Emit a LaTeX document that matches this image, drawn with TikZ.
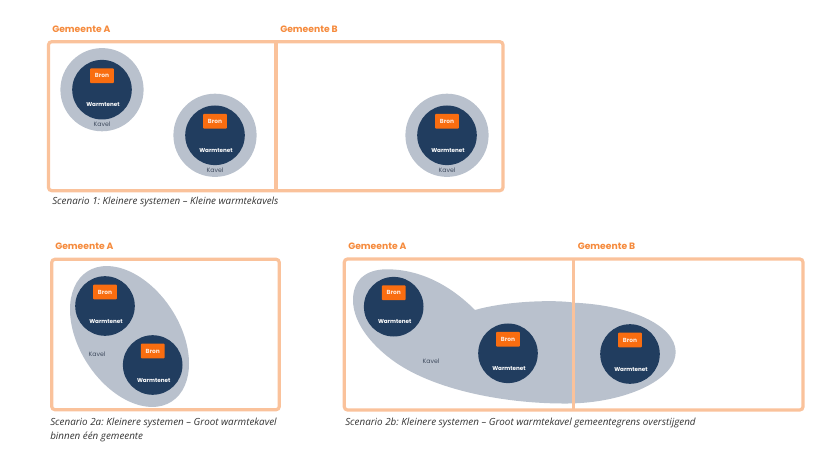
\documentclass[tikz,border=0pt]{standalone}
\usepackage{fontspec}
\setmainfont{Open Sans}
\newfontfamily\headfont{Poppins}
\definecolor{frameorange}{HTML}{FAC29B}
\definecolor{headorange}{HTML}{F58A3C}
\definecolor{bronorange}{HTML}{F96D10}
\definecolor{netblue}{HTML}{213D5F}
\definecolor{kavelgray}{HTML}{B9C1CD}
\definecolor{kaveltext}{HTML}{3F4B5E}
\definecolor{captiontext}{HTML}{333333}
\tikzset{
  frame/.style={draw=frameorange, line width=0.8mm, rounded corners=0.8mm},
  divider/.style={draw=frameorange, line width=0.8mm},
  kavel/.style={circle, fill=kavelgray, minimum size=20.8mm, inner sep=0pt},
  net/.style={circle, fill=netblue, minimum size=14.9mm, inner sep=0pt},
  bron/.style={fill=bronorange, rounded corners=0.2mm, minimum width=5.9mm, minimum height=3.7mm, inner sep=0pt,
    text=white!85!bronorange, font=\headfont\bfseries\fontsize{4.2}{5}\selectfont},
  nettext/.style={text=white, inner sep=0pt, font=\headfont\bfseries\fontsize{4}{5}\selectfont},
  kaveltag/.style={text=kaveltext, inner sep=0pt, font=\headfont\fontsize{4.4}{5}\selectfont},
  head/.style={text=headorange, anchor=west, inner sep=0pt, font=\headfont\bfseries\fontsize{6.55}{8}\selectfont},
  caption/.style={text=captiontext, anchor=west, align=left, inner sep=0pt, font=\frenchspacing\itshape\fontsize{7}{10.2}\selectfont}
}
\begin{document}
\begin{tikzpicture}[x=0.25mm, y=-0.25mm]
\useasboundingbox (0,0) rectangle (840,470);
% scenario 1
\node[head] (headA1) at (52,29) {Gemeente A};
\node[head] (headB1) at (280,29) {Gemeente B};
\draw[frame] (48.5,41.7) rectangle (503,190.7);
\coordinate (top1) at (276,41.7);
\coordinate (bot1) at (276,190.7);
\draw[divider] (top1) -- (bot1);
\foreach \name/\x/\y in {a/102/89.7, b/215/135.3, c/447/135.3} {
  \node[kavel] (kavel\name) at (\x,\y) {};
  \node[kaveltag] (tag\name) at (\x,\y+34.5) {Kavel};
}
\node[caption] (cap1) at (52,202) {Scenario 1: Kleinere systemen -- Kleine warmtekavels};
% scenario 2a
\node[head] (headA2) at (55,246) {Gemeente A};
\draw[frame] (51.7,259.3) rectangle (279.3,409.7);
\fill[kavelgray, rotate around={-57:(129.5,336.5)}] (129.5,336.5) ellipse (77.5 and 50);
\node[kaveltag] (tagd) at (97,354) {Kavel};
\node[caption, anchor=north west] (cap2) at (50,417.5) {Scenario 2a: Kleinere systemen -- Groot warmtekavel\\binnen één gemeente};
% scenario 2b
\node[head] (headA3) at (348,246) {Gemeente A};
\node[head] (headB3) at (577.5,246) {Gemeente B};
\fill[kavelgray] (475,310) .. controls (510,300) and (560,300) .. (573.7,302.7)
  .. controls (630,305) and (675,325) .. (675.7,351.7)
  .. controls (676,380) and (625,403) .. (568,403.5)
  .. controls (505,404) and (435,390) .. (395,362)
  .. controls (375,348) and (353,325) .. (353,300)
  .. controls (353,280) and (366,269.3) .. (386.7,269.3)
  .. controls (420,269.3) and (450,285) .. (475,310) -- cycle;
\draw[frame] (344.3,259) rectangle (803,410);
\coordinate (top3) at (573.7,259);
\coordinate (bot3) at (573.7,410);
\draw[divider] (top3) -- (bot3);
\node[kaveltag] (tagh) at (431,361) {Kavel};
\node[caption] (cap3) at (345,422.5) {Scenario 2b: Kleinere systemen -- Groot warmtekavel gemeentegrens overstijgend};
% warmtenetten
\foreach \name/\x/\y in {a/102/89.7, b/215/135.3, c/447/135.3, d/105/306, e/152.7/365, f/393.7/306.7, g/508/353.3, h/630/354} {
  \node[net] (net\name) at (\x,\y) {};
  \node[bron] (bron\name) at (\x,\y-14) {Bron};
  \node[nettext] (text\name) at (\x+1,\y+15.3) {Warmtenet};
}
\end{tikzpicture}
\end{document}
